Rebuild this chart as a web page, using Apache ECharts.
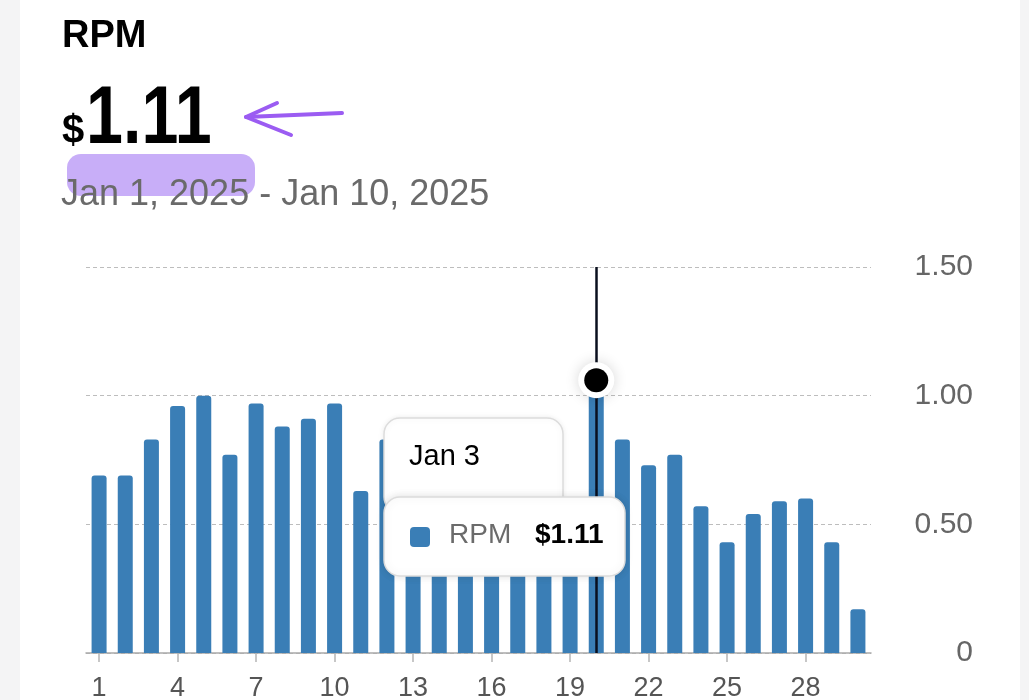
<!DOCTYPE html>
<html>
<head>
<meta charset="utf-8">
<script src="https://cdn.jsdelivr.net/npm/echarts@6/dist/echarts.min.js"></script>
<style>
  html, body { margin: 0; padding: 0; background: #f4f4f5; }
  #card { position: absolute; left: 20px; top: 0; width: 1000px; height: 700px; background: #ffffff; }
  #chart { position: absolute; left: 0; top: 0; width: 1029px; height: 700px; }
</style>
</head>
<body>
<div id="card"></div>
<div id="chart"></div>
<script>
// ---- data ----
const days = ['1','2','3','4','5','6','7','8','9','10','11','12','13','14','15',
              '16','17','18','19','20','21','22','23','24','25','26','27','28','29','30'];
const rpm = [0.69, 0.69, 0.83, 0.96, 1.00, 0.77, 0.97, 0.88, 0.91, 0.97,
             0.63, 0.83, 0.62, 0.58, 0.66, 0.55, 0.60, 0.52, 0.48, 1.06,
             0.83, 0.73, 0.77, 0.57, 0.43, 0.54, 0.59, 0.60, 0.43, 0.17];
const yTickLabels = ['0', '0.50', '1.00', '1.50'];
const highlightIndex = 19;
const titleText = 'RPM';
const bigValue = '1.11';
const dateRange = 'Jan 1, 2025 - Jan 10, 2025';
const tipDate = 'Jan 3';
const tipSeries = 'RPM';
const tipValue = '$1.11';

const BAR = '#3a7eb6';
const FONT = '"Liberation Sans", Arial, sans-serif';

const dotData = rpm.map((v, i) => (i === highlightIndex ? v : '-'));

const chart = echarts.init(document.getElementById('chart'), null, { renderer: 'canvas' });

chart.setOption({
  backgroundColor: 'transparent',
  animation: false,
  grid: { left: 86, right: 158, top: 267, bottom: 47, containLabel: false, outerBoundsMode: 'none' },
  xAxis: {
    type: 'category',
    data: days,
    axisLine: { show: true, lineStyle: { color: '#a9a9a9', width: 1.5 } },
    axisTick: { show: true, alignWithLabel: true, interval: 2, length: 9, lineStyle: { color: '#b5b5b5', width: 1.5 } },
    axisLabel: { interval: 2, color: '#555', fontSize: 27, fontFamily: FONT, margin: 22 },
    splitLine: { show: false }
  },
  yAxis: {
    type: 'value',
    position: 'right',
    min: 0, max: 1.5, interval: 0.5,
    axisLine: { show: false },
    axisTick: { show: false },
    axisLabel: {
      color: '#666', fontSize: 30, fontFamily: FONT, align: 'right', margin: 102,
      formatter: (v) => yTickLabels[Math.round(v / 0.5)]
    },
    splitLine: { show: true, lineStyle: { color: '#bdbdbd', type: [4, 3], width: 1 } }
  },
  series: [
    {
      type: 'bar',
      data: rpm,
      barWidth: 15,
      itemStyle: { color: BAR, borderRadius: [3, 3, 0, 0] },
      z: 2
    },
    {
      type: 'scatter',
      data: dotData,
      symbol: 'circle',
      symbolSize: 36,
      z: 8,
      silent: true,
      itemStyle: {
        color: '#fff', opacity: 1,
        shadowColor: 'rgba(0,0,0,0.16)', shadowBlur: 14
      },
      markLine: {
        silent: true,
        symbol: ['none', 'none'],
        label: { show: false },
        lineStyle: { color: '#0a0f1e', width: 2.5, type: 'solid' },
        data: [{ xAxis: days[highlightIndex] }],
        z: 5
      }
    },
    {
      type: 'scatter',
      data: dotData,
      symbol: 'circle',
      symbolSize: 24,
      z: 10,
      silent: true,
      itemStyle: { color: '#000', opacity: 1 }
    }
  ],
  graphic: [
    // title
    { type: 'text', left: 62, top: 18, z: 20,
      style: { text: titleText, fill: '#000', font: 'bold 38px ' + FONT } },
    // highlighter
    { type: 'rect', z: 15, shape: { x: 67, y: 154, width: 188, height: 42, r: 14 },
      style: { fill: '#c8aef8' } },
    // big value
    { type: 'text', x: 62, y: 112, z: 20,
      style: { text: '$', fill: '#000', font: 'bold 40px ' + FONT } },
    { type: 'text', x: 86, y: 79, z: 20, scaleX: 0.81,
      style: { text: bigValue, fill: '#000', font: 'bold 82px ' + FONT } },
    // date range
    { type: 'text', x: 61, y: 177, z: 20,
      style: { text: dateRange, fill: '#6a6a6a', font: '36px ' + FONT } },
    // arrow
    { type: 'polyline', z: 20, shape: { points: [[342, 113], [246, 117]] },
      style: { stroke: '#9b5cf2', lineWidth: 4, lineCap: 'round', fill: null } },
    { type: 'polyline', z: 20, shape: { points: [[277, 103], [246, 117], [291, 135]] },
      style: { stroke: '#9b5cf2', lineWidth: 4, lineCap: 'round', lineJoin: 'round', fill: null } },
    // tooltip header box
    { type: 'rect', z: 30, shape: { x: 384, y: 418, width: 179, height: 95, r: 16 },
      style: { fill: '#fff', stroke: '#dcdcdc', lineWidth: 1.5, shadowColor: 'rgba(0,0,0,0.08)', shadowBlur: 6 } },
    { type: 'text', x: 409, y: 442, z: 31,
      style: { text: tipDate, fill: '#000', font: '29px ' + FONT } },
    // tooltip body box
    { type: 'rect', z: 32, shape: { x: 384, y: 497, width: 241, height: 79, r: 16 },
      style: { fill: '#fff', stroke: '#dcdcdc', lineWidth: 1.5, shadowColor: 'rgba(0,0,0,0.12)', shadowBlur: 8 } },
    { type: 'rect', z: 33, shape: { x: 410, y: 527, width: 20, height: 20, r: 4 },
      style: { fill: BAR } },
    { type: 'text', x: 449, y: 521, z: 33,
      style: { text: tipSeries, fill: '#6b6b6b', font: '28px ' + FONT } },
    { type: 'text', x: 535, y: 521, z: 33,
      style: { text: tipValue, fill: '#000', font: 'bold 28px ' + FONT } }
  ]
});
</script>
</body>
</html>
